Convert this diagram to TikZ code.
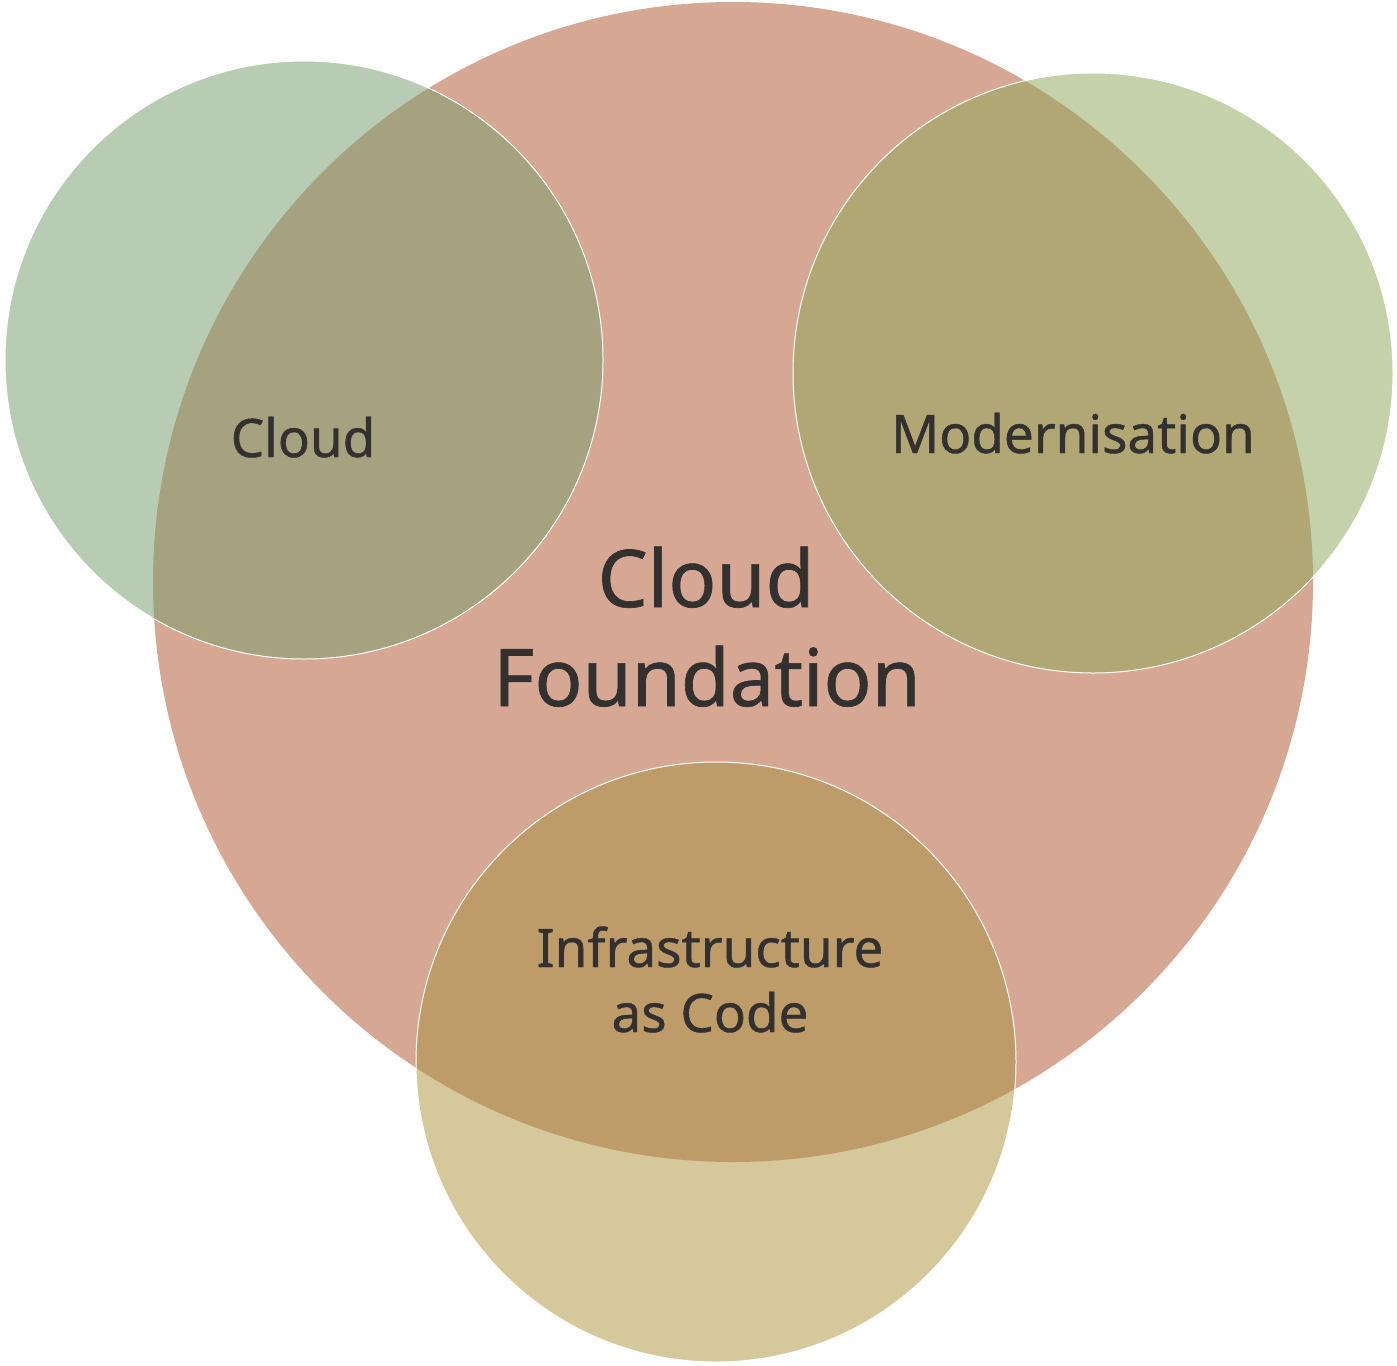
\documentclass[tikz,border=0pt]{standalone}
\usepackage{fontspec}
\setmainfont{Noto Sans}
\newfontfamily\lblfont{Noto Sans}[FakeBold=0.8]
\definecolor{bigc}{HTML}{D6A894}
\definecolor{cloudout}{HTML}{B8CCB4}
\definecolor{cloudin}{HTML}{A5A27F}
\definecolor{modout}{HTML}{C5D1A8}
\definecolor{modin}{HTML}{B0A775}
\definecolor{iacout}{HTML}{D5C99C}
\definecolor{iacin}{HTML}{BE9C6A}
\definecolor{txt}{HTML}{333030}
\tikzset{
  lbl/.style={text=txt, inner sep=0pt, anchor=base, align=center},
  small/.style={lbl, font=\lblfont\fontsize{53}{65}\selectfont},
  large/.style={lbl, font=\lblfont\fontsize{79.5}{99}\selectfont},
  rim/.style={draw=white, line width=1pt}
}
\begin{document}
\begin{tikzpicture}[x=1pt,y=-1pt]
\useasboundingbox (0,0) rectangle (1397,1365);
\fill[white] (0,0) rectangle (1397,1365);
% big circle
\fill[bigc] (733,582) circle[radius=580];
% small circles outer parts
\fill[cloudout] (304,360) circle[radius=299];
\fill[modout] (1093,373) circle[radius=300];
\fill[iacout] (716,1062) circle[radius=300];
% overlaps
\begin{scope}
  \clip (733,582) circle[radius=580];
  \fill[cloudin] (304,360) circle[radius=299];
  \fill[modin] (1093,373) circle[radius=300];
  \fill[iacin] (716,1062) circle[radius=300];
\end{scope}
% rims
\draw[rim] (304,360) circle[radius=299];
\draw[rim] (1093,373) circle[radius=300];
\draw[rim] (716,1062) circle[radius=300];
% labels
\node[small] (cloud) at (303,457) {Cloud};
\node[small] (modern) at (1073,453) {Modernisation};
\node[large] (cf1) at (706,607) {Cloud};
\node[large] (cf2) at (707,706) {Foundation};
\node[small] (iac1) at (710,967) {Infrastructure};
\node[small] (iac2) at (710,1032) {as Code};
\end{tikzpicture}
\end{document}
